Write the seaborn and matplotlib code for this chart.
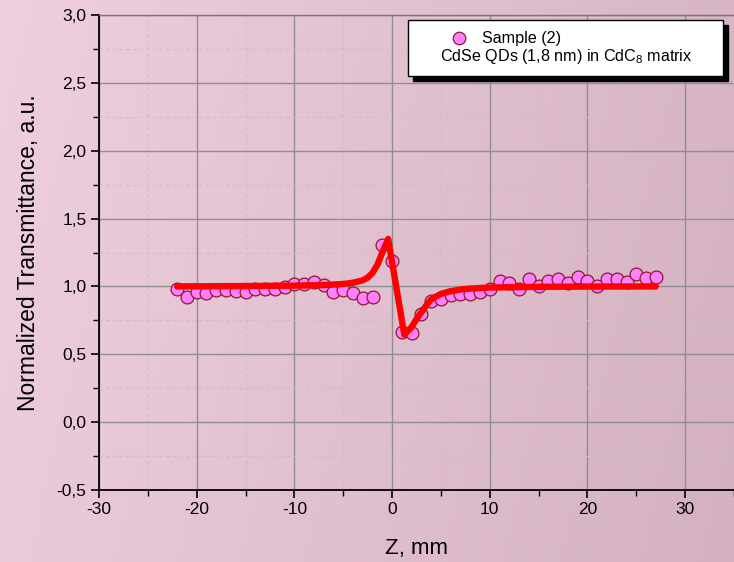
import numpy as np
import pandas as pd
import matplotlib
matplotlib.use("Agg")
import matplotlib.pyplot as plt
import seaborn as sns
from matplotlib.ticker import MultipleLocator, FuncFormatter
from matplotlib.patches import Rectangle
from matplotlib.colors import LinearSegmentedColormap

# ---- data ----
z_exp = [-22, -21, -20, -19, -18, -17, -16, -15, -14, -13, -12, -11, -10, -9, -8, -7,
         -6, -5, -4, -3, -2, -1, 0, 1, 2, 3, 4, 5, 6, 7, 8, 9, 10, 11, 12, 13, 14,
         15, 16, 17, 18, 19, 20, 21, 22, 23, 24, 25, 26, 27]
t_exp = [0.978, 0.924, 0.956, 0.951, 0.975, 0.971, 0.963, 0.958, 0.983, 0.978, 0.978,
         0.993, 1.017, 1.017, 1.032, 1.012, 0.961, 0.973, 0.948, 0.914, 0.924, 1.307,
         1.187, 0.661, 0.656, 0.800, 0.889, 0.907, 0.936, 0.941, 0.941, 0.956, 0.983,
         1.037, 1.027, 0.978, 1.054, 1.005, 1.039, 1.052, 1.022, 1.066, 1.042, 1.005,
         1.052, 1.052, 1.029, 1.091, 1.059, 1.071]

z_fit = [-22, -15, -10, -7, -5, -4, -3, -2.5, -2, -1.5, -1.0, -0.4, 1.25, 2.0, 2.5,
         3.0, 3.5, 4.0, 5.0, 6.0, 7.0, 8.0, 10.0, 15.0, 20.0, 27.0]
t_fit = [1.0, 1.003, 1.006, 1.01, 1.018, 1.027, 1.045, 1.065, 1.10, 1.16, 1.25, 1.35,
         0.645, 0.70, 0.76, 0.81, 0.86, 0.905, 0.945, 0.965, 0.977, 0.984, 0.992,
         0.997, 0.999, 1.0]

x_ticks = [-30, -20, -10, 0, 10, 20, 30]
y_ticks = [-0.5, 0.0, 0.5, 1.0, 1.5, 2.0, 2.5, 3.0]
legend_line1 = "Sample (2)"
legend_line2 = "CdSe QDs (1,8 nm) in CdC$_{8}$ matrix"
x_label = "Z, mm"
y_label = "Normalized Transmittance, a.u."

df_exp = pd.DataFrame({"z": z_exp, "t": t_exp})
df_fit = pd.DataFrame({"z": z_fit, "t": t_fit})

sns.set_theme(style="white")
plt.rcParams["font.family"] = ["Liberation Sans", "DejaVu Sans"]
plt.rcParams["mathtext.fontset"] = "custom"
plt.rcParams["mathtext.rm"] = "Liberation Sans"

W, H = 734, 562
fig = plt.figure(figsize=(W / 100, H / 100), dpi=100)

# background gradient
bg = fig.add_axes([0, 0, 1, 1], zorder=-10)
cmap = LinearSegmentedColormap.from_list("bg", ["#efcfde", "#d3b1c1"])
gx = np.linspace(0, 1, 256)
gy = np.linspace(0, 1, 64)
G = 0.85 * gx[None, :] + 0.15 * gy[:, None]
bg.imshow(G, cmap=cmap, aspect="auto", extent=[0, 1, 0, 1], origin="upper")
bg.set_axis_off()

def fx(px):
    return px / W

def fy(py):
    return 1 - py / H

ax = fig.add_axes([fx(99), fy(490), fx(734) - fx(99), fy(15) - fy(490)])
ax.set_facecolor("none")

ax.set_xlim(-30, 35)
ax.set_ylim(-0.5, 3.0)
ax.xaxis.set_major_locator(MultipleLocator(10))
ax.xaxis.set_minor_locator(MultipleLocator(5))
ax.yaxis.set_major_locator(MultipleLocator(0.5))
ax.yaxis.set_minor_locator(MultipleLocator(0.25))
ax.xaxis.set_major_formatter(FuncFormatter(lambda v, p: f"{v:.0f}"))
ax.yaxis.set_major_formatter(FuncFormatter(lambda v, p: f"{v:.1f}".replace(".", ",")))

ax.grid(which="major", color="#8f8f8f", lw=1.0, zorder=0)
ax.grid(which="minor", color="#c9c0c5", lw=0.8, ls=(0, (3, 3)), zorder=0)
ax.set_axisbelow(True)

for s in ["left", "bottom"]:
    ax.spines[s].set_color("black")
    ax.spines[s].set_linewidth(1.3)
ax.spines["top"].set_color("#777777")
ax.spines["top"].set_linewidth(1.0)
ax.spines["right"].set_visible(False)

ax.tick_params(which="major", direction="out", length=6, width=1.2, color="black",
               labelsize=12.5, labelcolor="black", left=True, bottom=True, pad=3)
ax.tick_params(which="minor", direction="out", length=4, width=1.0, color="black",
               left=True, bottom=True)

sns.scatterplot(data=df_exp, x="z", y="t", ax=ax, s=85, color="#ff80ff",
                edgecolor="#8b1a2a", linewidth=0.9, zorder=3, legend=False)
sns.lineplot(data=df_fit, x="z", y="t", ax=ax, sort=False, estimator=None,
             color="#ff0000", lw=4.6, zorder=4, legend=False)

ax.set_xlabel(x_label, fontsize=16, color="black", labelpad=15)
ax.set_ylabel(y_label, fontsize=16.5, color="black", labelpad=12)

# legend box (drawn manually) with shadow
lx0, lx1, ly0, ly1 = 408, 723, 20, 76
shadow = Rectangle((fx(lx0 + 5), fy(ly1 + 5)), fx(lx1) - fx(lx0), fy(ly0) - fy(ly1),
                   transform=fig.transFigure, facecolor="black", edgecolor="black",
                   zorder=20)
box = Rectangle((fx(lx0), fy(ly1)), fx(lx1) - fx(lx0), fy(ly0) - fy(ly1),
                transform=fig.transFigure, facecolor="white", edgecolor="black",
                lw=1.0, zorder=21)
fig.add_artist(shadow)
fig.add_artist(box)
fig.add_artist(plt.Line2D([fx(459)], [fy(38)], marker="o", markersize=9,
                          markerfacecolor="#ff80ff", markeredgecolor="#8b1a2a",
                          markeredgewidth=0.9, transform=fig.transFigure, zorder=22))
fig.text(fx(482), fy(38), legend_line1, fontsize=11.6, ha="left", va="center",
         color="black", zorder=22)
fig.text(fx(566), fy(57), legend_line2, fontsize=11.6, ha="center", va="center",
         color="black", zorder=22)

fig.savefig("out.png", dpi=100)
